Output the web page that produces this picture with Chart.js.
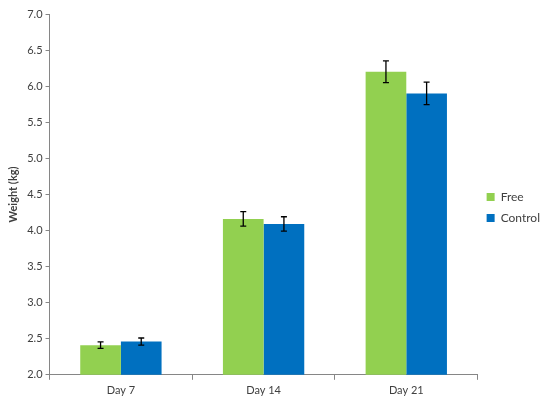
<!DOCTYPE html>
<html>
<head>
<meta charset="utf-8">
<script src="https://cdn.jsdelivr.net/npm/chart.js@4.4.0/dist/chart.umd.min.js"></script>
<style>
  html, body { margin: 0; padding: 0; background: #fff; }
  #wrap { width: 550px; height: 403px; }
</style>
</head>
<body>
<div id="wrap"><canvas id="content" width="550" height="403"></canvas></div>
<script>
// data
var days = ["Day 7", "Day 14", "Day 21"];
var freeWeight = [2.41, 4.16, 6.20];
var controlWeight = [2.46, 4.09, 5.90];
var freeErr = [0.045, 0.10, 0.15];
var controlErr = [0.05, 0.10, 0.155];

var FONT = "Lato, 'Open Sans', sans-serif";

// simple error bar drawing, uses the chart's own scales
var errorBars = {
  id: "errorBars",
  afterDatasetsDraw: function (chart) {
    var ctx = chart.ctx;
    var yScale = chart.scales.y;
    var errs = [freeErr, controlErr];
    ctx.save();
    ctx.strokeStyle = "#000";
    ctx.lineWidth = 1.3;
    chart.data.datasets.forEach(function (ds, i) {
      var meta = chart.getDatasetMeta(i);
      meta.data.forEach(function (bar, j) {
        var v = ds.data[j];
        var e = errs[i][j];
        var x = bar.x;
        var top = yScale.getPixelForValue(v + e);
        var bot = yScale.getPixelForValue(v - e);
        ctx.beginPath();
        ctx.moveTo(x, top);
        ctx.lineTo(x, bot);
        ctx.moveTo(x - 3, top);
        ctx.lineTo(x + 3, top);
        ctx.moveTo(x - 3, bot);
        ctx.lineTo(x + 3, bot);
        ctx.stroke();
      });
    });
    ctx.restore();
  }
};

new Chart("content", {
  type: "bar",
  data: {
    labels: days,
    datasets: [
      {
        label: "Free",
        data: freeWeight,
        backgroundColor: "#92D050",
        categoryPercentage: 0.57,
        barPercentage: 1.0
      },
      {
        label: "Control",
        data: controlWeight,
        backgroundColor: "#0070C0",
        categoryPercentage: 0.57,
        barPercentage: 1.0
      }
    ]
  },
  options: {
    responsive: false,
    animation: false,
    layout: { padding: { top: 14, right: 0, left: 7, bottom: 2 } },
    plugins: {
      legend: {
        position: "right",
        labels: {
          boxWidth: 8,
          boxHeight: 8,
          padding: 9,
          color: "#404040",
          font: { family: FONT, size: 12 }
        }
      },
      tooltip: { enabled: false }
    },
    scales: {
      x: {
        border: { color: "#868686", width: 1 },
        grid: {
          display: true,
          offset: true,
          drawOnChartArea: false,
          tickLength: 5,
          color: "#868686"
        },
        ticks: {
          color: "#404040",
          font: { family: FONT, size: 11 },
          padding: 4
        }
      },
      y: {
        min: 2.0,
        max: 7.0,
        border: { color: "#868686", width: 1 },
        grid: {
          display: true,
          drawOnChartArea: false,
          tickLength: 4,
          color: "#868686"
        },
        ticks: {
          stepSize: 0.5,
          color: "#404040",
          font: { family: FONT, size: 11 },
          padding: 3,
          callback: function (v) { return Number(v).toFixed(1); }
        },
        title: {
          display: true,
          text: "Weight (kg)",
          color: "#404040",
          font: { family: FONT, size: 11, weight: "bold" },
          padding: { top: 0, bottom: 4 }
        }
      }
    }
  },
  plugins: [errorBars]
});
</script>
</body>
</html>
